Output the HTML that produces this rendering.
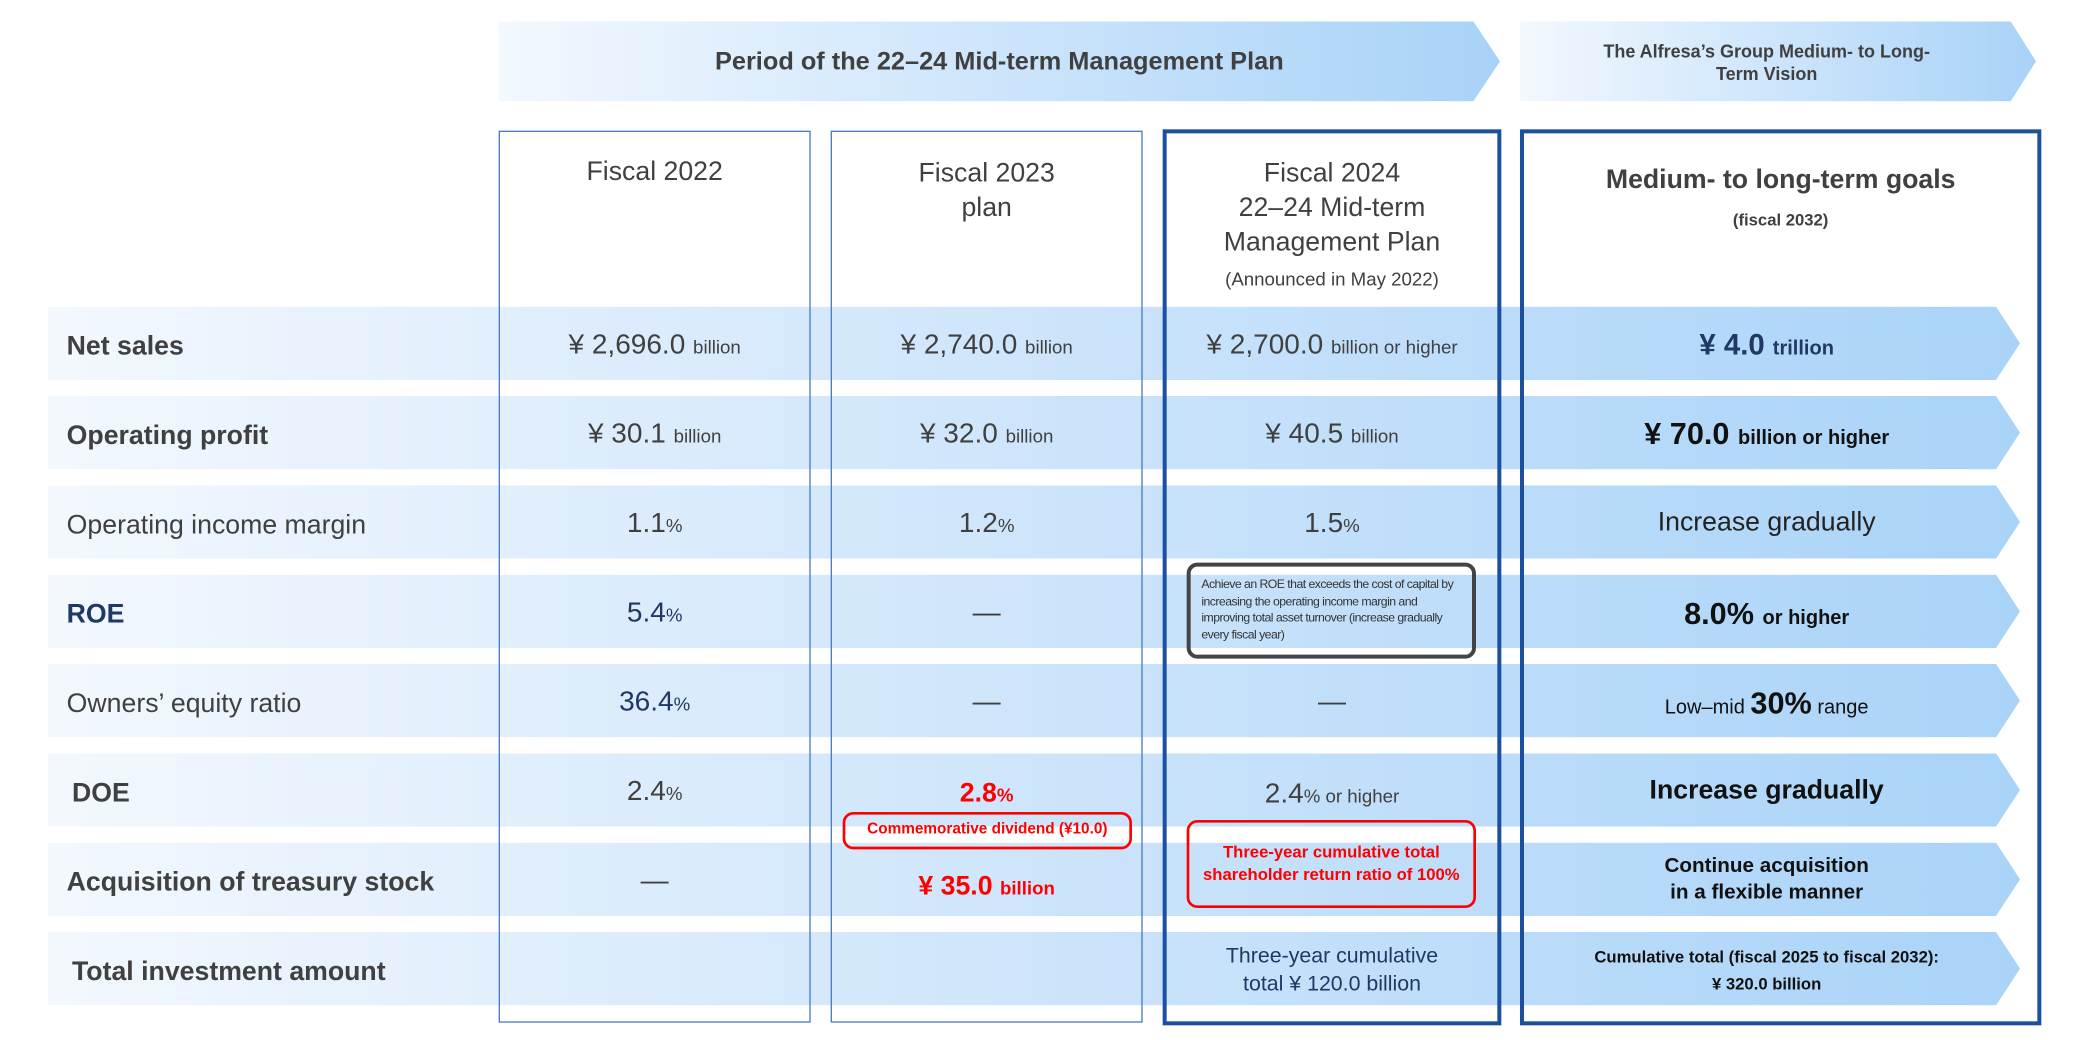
<!DOCTYPE html>
<html><head><meta charset="utf-8">
<style>
html,body{margin:0;padding:0;background:#fff;width:2080px;height:1040px;overflow:hidden}
#s{position:absolute;left:0;top:0;width:1560px;height:780px;transform:scale(1.33333);transform-origin:0 0;font-family:"Liberation Sans","Noto Sans CJK JP",sans-serif;color:#404040}
.a{position:absolute}
.c{position:absolute;text-align:center;white-space:nowrap}
.band{position:absolute;left:36px;width:1479px;height:55px;background:linear-gradient(90deg,#f3f8fe 0%,#dcecfc 30%,#c6e1fa 60%,#a9d3f8 100%);clip-path:polygon(0 0,1461px 0,1479px 50%,1461px 100%,0 100%)}
.lbl{position:absolute;left:50px;font-size:20px;white-space:nowrap;line-height:55px;margin-top:3px}
.b{font-weight:bold}
.sm{font-size:14px}
.box{position:absolute;box-sizing:border-box}
</style></head><body>
<div id="s">
<div class="a" style="left:374px;top:16px;width:751px;height:60px;background:linear-gradient(90deg,#f2f8fe,#a8d2f8);clip-path:polygon(0 0,731px 0,751px 50%,731px 100%,0 100%)"></div>
<div class="c b" style="left:374px;width:751px;top:36px;font-size:19px">Period of the 22–24 Mid-term Management Plan</div>
<div class="a" style="left:1140px;top:16px;width:387px;height:60px;background:linear-gradient(90deg,#f2f8fe,#a8d2f8);clip-path:polygon(0 0,368px 0,387px 50%,368px 100%,0 100%)"></div>
<div class="c b" style="left:1140px;width:370px;top:30px;font-size:13.5px;line-height:17px">The Alfresa’s Group Medium- to Long-<br>Term Vision</div>

<div class="band" style="top:230px"></div>
<div class="band" style="top:297px"></div>
<div class="band" style="top:364px"></div>
<div class="band" style="top:431px"></div>
<div class="band" style="top:498px"></div>
<div class="band" style="top:565px"></div>
<div class="band" style="top:632px"></div>
<div class="band" style="top:699px"></div>

<div class="box" style="left:374px;top:98px;width:234px;height:669px;border:1px solid #4a7cc6"></div>
<div class="box" style="left:623px;top:98px;width:234px;height:669px;border:1px solid #4a7cc6"></div>
<div class="box" style="left:872px;top:97px;width:254px;height:672px;border:3px solid #1d4fa0"></div>
<div class="box" style="left:1140px;top:97px;width:391px;height:672px;border:3px solid #1d4fa0"></div>

<div class="c" style="left:374px;width:234px;top:118px;font-size:20px">Fiscal 2022</div>
<div class="c" style="left:623px;width:234px;top:117px;font-size:20px;line-height:26px">Fiscal 2023<br>plan</div>
<div class="c" style="left:872px;width:254px;top:117px;font-size:20px;line-height:26px">Fiscal 2024<br>22–24 Mid-term<br>Management Plan<br><span class="sm">(Announced in May 2022)</span></div>
<div class="c b" style="left:1140px;width:391px;top:121px;font-size:20px;line-height:28px">Medium- to long-term goals<br><span style="font-size:12.5px">(fiscal 2032)</span></div>

<div class="lbl b" style="top:230px">Net sales</div>
<div class="lbl b" style="top:297px">Operating profit</div>
<div class="lbl" style="top:364px">Operating income margin</div>
<div class="lbl b" style="top:431px;color:#1f3864">ROE</div>
<div class="lbl" style="top:498px">Owners’ equity ratio</div>
<div class="lbl b" style="top:565px;left:54px">DOE</div>
<div class="lbl b" style="top:632px">Acquisition of treasury stock</div>
<div class="lbl b" style="top:699px;left:54px">Total investment amount</div>

<!-- col 2022 -->
<div class="c" style="left:374px;width:234px;top:247px;font-size:21px">¥ 2,696.0 <span class="sm">billion</span></div>
<div class="c" style="left:374px;width:234px;top:314px;font-size:21px">¥ 30.1 <span class="sm">billion</span></div>
<div class="c" style="left:374px;width:234px;top:381px;font-size:21px">1.1<span class="sm">%</span></div>
<div class="c" style="left:374px;width:234px;top:448px;font-size:21px;color:#1f3864">5.4<span class="sm">%</span></div>
<div class="c" style="left:374px;width:234px;top:515px;font-size:21px;color:#1f3864">36.4<span class="sm">%</span></div>
<div class="c" style="left:374px;width:234px;top:582px;font-size:21px">2.4<span class="sm">%</span></div>
<div class="c" style="left:374px;width:234px;top:649px;font-size:21px">—</div>

<!-- col 2023 -->
<div class="c" style="left:623px;width:234px;top:247px;font-size:21px">¥ 2,740.0 <span class="sm">billion</span></div>
<div class="c" style="left:623px;width:234px;top:314px;font-size:21px">¥ 32.0 <span class="sm">billion</span></div>
<div class="c" style="left:623px;width:234px;top:381px;font-size:21px">1.2<span class="sm">%</span></div>
<div class="c" style="left:623px;width:234px;top:448px;font-size:21px">—</div>
<div class="c" style="left:623px;width:234px;top:515px;font-size:21px">—</div>
<div class="c b" style="left:623px;width:234px;top:584px;font-size:20px;color:#f00">2.8<span class="sm">%</span></div>
<div class="box c b" style="left:632px;top:609px;width:217px;height:28px;border:2.5px solid #f00;border-radius:8px;font-size:11.5px;color:#f00;line-height:23px">Commemorative dividend (¥10.0)</div>
<div class="c b" style="left:623px;width:234px;top:654px;font-size:20px;color:#f00">¥ 35.0 <span class="sm">billion</span></div>

<!-- col 2024 -->
<div class="c" style="left:872px;width:254px;top:247px;font-size:21px">¥ 2,700.0 <span class="sm">billion or higher</span></div>
<div class="c" style="left:872px;width:254px;top:314px;font-size:21px">¥ 40.5 <span class="sm">billion</span></div>
<div class="c" style="left:872px;width:254px;top:381px;font-size:21px">1.5<span class="sm">%</span></div>
<div class="box" style="left:890px;top:422px;width:217px;height:72px;border:3px solid #444;border-radius:8px;padding:7px 4px 0 8px;font-size:9.2px;line-height:12.5px;color:#333;letter-spacing:-0.4px">Achieve an ROE that exceeds the cost of capital by increasing the operating income margin and improving total asset turnover (increase gradually every fiscal year)</div>
<div class="c" style="left:872px;width:254px;top:515px;font-size:21px">—</div>
<div class="c" style="left:872px;width:254px;top:584px;font-size:21px">2.4<span class="sm">% or higher</span></div>
<div class="box c b" style="left:890px;top:615px;width:217px;height:66px;border:2.5px solid #f00;border-radius:8px;font-size:12.5px;color:#f00;line-height:17px;padding-top:14px">Three-year cumulative total<br>shareholder return ratio of 100%</div>
<div class="c" style="left:872px;width:254px;top:707px;font-size:16px;line-height:21px;color:#1f3864">Three-year cumulative<br>total ¥ 120.0 billion</div>

<!-- col long-term -->
<div class="c b" style="left:1140px;width:370px;top:246px;font-size:22px;color:#1f3864">¥ 4.0 <span style="font-size:15px">trillion</span></div>
<div class="c b" style="left:1140px;width:370px;top:312px;font-size:23px;color:#111">¥ 70.0 <span style="font-size:15px">billion or higher</span></div>
<div class="c" style="left:1140px;width:370px;top:381px;font-size:20px;color:#222">Increase gradually</div>
<div class="c b" style="left:1140px;width:370px;top:447px;font-size:23px;color:#111">8.0% <span style="font-size:15px">or higher</span></div>
<div class="c" style="left:1140px;width:370px;top:514px;font-size:15px;color:#111">Low–mid <b style="font-size:23px">30%</b> range</div>
<div class="c b" style="left:1140px;width:370px;top:582px;font-size:20px;color:#111">Increase gradually</div>
<div class="c b" style="left:1140px;width:370px;top:640px;font-size:15.5px;line-height:20px;color:#111">Continue acquisition<br>in a flexible manner</div>
<div class="c b" style="left:1140px;width:370px;top:708px;font-size:12.5px;line-height:20px;color:#111">Cumulative total (fiscal 2025 to fiscal 2032):<br>¥ 320.0 billion</div>
</div>
</body></html>
